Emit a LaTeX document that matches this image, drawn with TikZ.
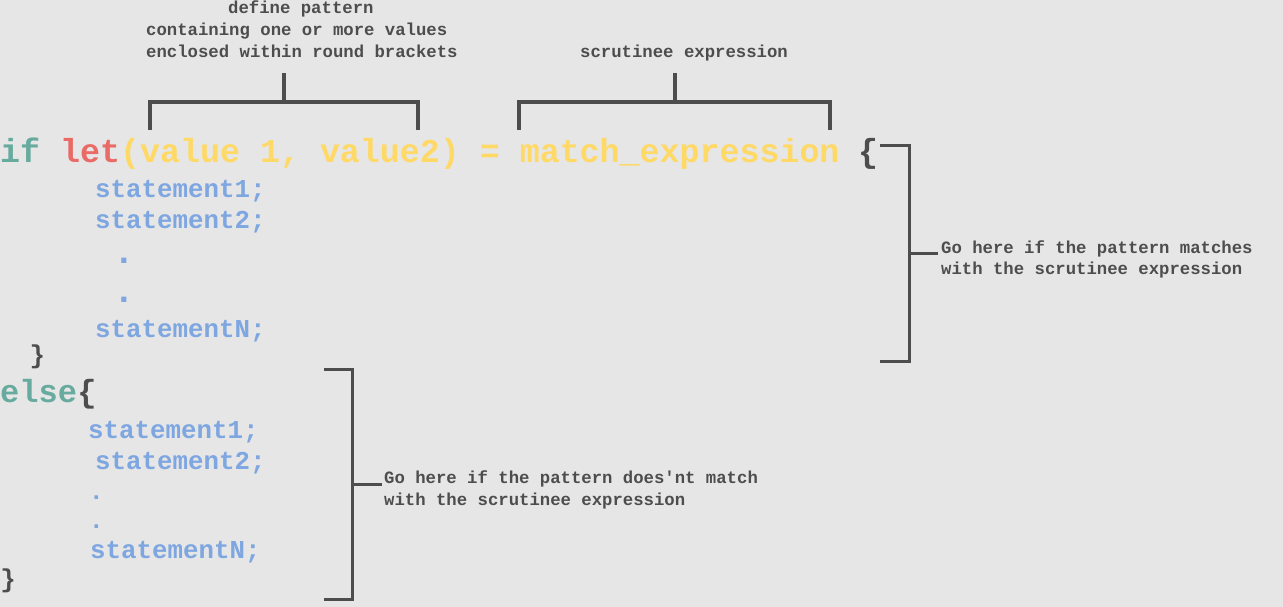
\documentclass[tikz,border=0pt]{standalone}
\usepackage{fontspec}
\newfontfamily\monofnt{Liberation Mono}
\definecolor{bgc}{HTML}{E6E6E6}
\definecolor{gry}{HTML}{4D4D4D}
\definecolor{tea}{HTML}{67AB9F}
\definecolor{rdc}{HTML}{EA6B66}
\definecolor{yel}{HTML}{FFD966}
\definecolor{blu}{HTML}{7EA6E0}
\begin{document}
\begin{tikzpicture}[x=1pt,y=-1pt,line join=miter,
 code/.style={inner sep=0,anchor=base west,font=\monofnt\bfseries\fontsize{33.3}{40}\selectfont},
 stmt/.style={inner sep=0,anchor=base west,text=blu,font=\monofnt\bfseries\fontsize{25.8}{30}\selectfont},
 note/.style={inner sep=0,anchor=base west,text=gry,font=\monofnt\bfseries\fontsize{17.3}{22}\selectfont},
 brk/.style={draw=gry,line width=3pt}]
 \fill[bgc](0,0)rectangle(1283,607);
 \useasboundingbox(0,0)rectangle(1283,607);
 % if let line
 \node[code,text=tea](if)at(0,163){if};
 \node[code,text=rdc](let)at(60,163){let};
 \node[code,text=yel](pat)at(120,163){(value 1, value2) = match\_expression};
 \node[code,text=gry](ob1)at(858,163){\{};
 \foreach \x/\y/\t[count=\i] in{95/197/statement1;,95/228/statement2;,95/337/statementN;,88/438/statement1;,95/469/statement2;,90/558/statementN;}
 \node[stmt](s\i)at(\x,\y){\t};
 \foreach \x/\y/\s[count=\i] in{124/263/36,124/302/36,96.5/499/25,96.5/528/25}
 \node[stmt,anchor=base,font=\monofnt\bfseries\fontsize{\s}{\s}\selectfont](d\i)at(\x,\y){.};
 \node[stmt,text=gry](cb1)at(29.5,363){\}};
 % else part
 \node[code,text=tea,font=\monofnt\bfseries\fontsize{32}{40}\selectfont](else)at(0,402){else};
 \node[code,text=gry,font=\monofnt\bfseries\fontsize{32}{40}\selectfont](ob2)at(else.base east){\{};
 \node[stmt,text=gry](cb2)at(0.3,587){\}};
 % notes
 \node[note](n1)at(228,14){define pattern};
 \node[note](n2)at(146,36){containing one or more values};
 \node[note](n3)at(146,58){enclosed within round brackets};
 \node[note](n4)at(580,58){scrutinee expression};
 \node[note](n5)at(941,253){Go here if the pattern matches};
 \node[note](n6)at(941,274){with the scrutinee expression};
 \node[note](n7)at(384,483){Go here if the pattern does'nt match};
 \node[note](n8)at(384,505){with the scrutinee expression};
 % brackets
 \draw[brk,line width=4pt](150,130)--(150,102)--(418,102)--(418,130)(284,102)--(284,73);
 \draw[brk,line width=4pt](519,130)--(519,102)--(830,102)--(830,130)(675,102)--(675,73);
 \draw[brk](880,146)--(909.5,146)--(909.5,361.5)--(880,361.5)(909.5,253.5)--(938,253.5);
 \draw[brk](324,369.5)--(352,369.5)--(352,599.5)--(324,599.5)(352,484.5)--(382,484.5);
\end{tikzpicture}
\end{document}
